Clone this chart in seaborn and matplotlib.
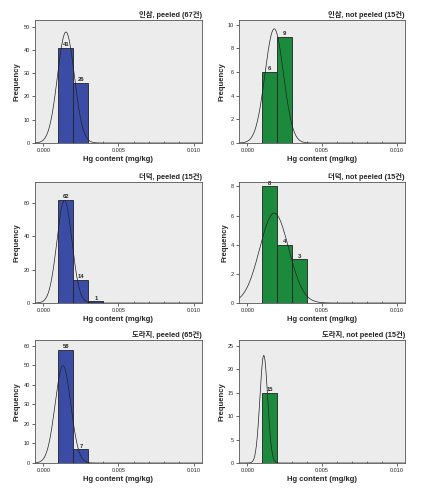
import numpy as np
import pandas as pd
import matplotlib
matplotlib.use("Agg")
import matplotlib.pyplot as plt
import seaborn as sns
from matplotlib.ticker import MultipleLocator

# Histogram data (bin width 0.001 mg/kg, first bin starts at 0.001)
TITLES = [
    "인삼, peeled (67건)", "인삼, not peeled (15건)",
    "더덕, peeled (15건)", "더덕, not peeled (15건)",
    "도라지, peeled (65건)", "도라지, not peeled (15건)",
]
BIN_START = [0.001, 0.001, 0.001, 0.001, 0.001, 0.001]
COUNTS = [
    [41, 26],
    [6, 9],
    [62, 14, 1],
    [8, 4, 3],
    [58, 7],
    [15],
]
# normal curve parameters (mean, sd) estimated from the fitted curves
MEANS = [0.00150, 0.00180, 0.00140, 0.00180, 0.00130, 0.00110]
SDS = [0.00056, 0.00062, 0.00050, 0.00097, 0.00052, 0.00026]
Y_TOP = [52.9, 10.4, 72.5, 8.3, 62.9, 26.3]
Y_STEP = [10, 2, 20, 2, 10, 5]
COLORS = ["#3a4ca6", "#1b8a3c"] * 3
BIN_WIDTH = 0.001

sns.set_style("white")
plt.rcParams["font.family"] = ["Liberation Sans", "Noto Sans CJK KR"]

fig = plt.figure(figsize=(4.31, 4.93), dpi=100)
W, H = 431, 493
cols = [(35, 202), (239, 405)]
rows = [(20, 143), (182, 303), (340, 463)]

for i in range(6):
    r, c = divmod(i, 2)
    x0, x1 = cols[c]
    y0, y1 = rows[r]
    ax = fig.add_axes([x0 / W, 1 - y1 / H, (x1 - x0) / W, (y1 - y0) / H])
    ax.set_facecolor("#ececec")

    counts = COUNTS[i]
    edges = [BIN_START[i] + BIN_WIDTH * k for k in range(len(counts) + 1)]
    centers = [(edges[k] + edges[k + 1]) / 2 for k in range(len(counts))]
    df = pd.DataFrame({"x": centers, "n": counts})
    sns.histplot(data=df, x="x", weights="n", bins=edges, ax=ax,
                 color=COLORS[i], alpha=1, edgecolor="#222222", linewidth=0.6)
    ax.bar_label(ax.containers[0], labels=[str(v) for v in counts],
                 fontsize=4.2, fontweight="bold", padding=0.5)

    n = sum(counts)
    xs = np.linspace(-0.0006, 0.0106, 400)
    ys = n * BIN_WIDTH * np.exp(-0.5 * ((xs - MEANS[i]) / SDS[i]) ** 2) / (SDS[i] * np.sqrt(2 * np.pi))
    sns.lineplot(x=xs, y=ys, ax=ax, color="#222222", linewidth=0.5)

    ax.set_xlim(-0.00056, 0.01056)
    ax.set_ylim(0, Y_TOP[i])
    ax.set_xticks([0.0, 0.005, 0.010])
    ax.set_xticklabels(["0.000", "0.005", "0.010"])
    ax.xaxis.set_minor_locator(MultipleLocator(0.001))
    ax.yaxis.set_major_locator(MultipleLocator(Y_STEP[i]))
    ax.tick_params(axis="both", which="major", labelsize=4, length=2, width=0.5,
                   direction="out", pad=1.5, bottom=True, left=True)
    ax.tick_params(axis="x", which="minor", length=1.5, width=0.4, direction="in", bottom=True)
    for s in ax.spines.values():
        s.set_color("#555555")
        s.set_linewidth(0.6)
    ax.set_xlabel("Hg content (mg/kg)", fontsize=5.5, fontweight="bold", labelpad=2)
    ax.set_ylabel("Frequency", fontsize=5.5, fontweight="bold", labelpad=2)
    ax.set_title(TITLES[i], loc="right", fontsize=5.3, fontweight="bold", pad=2)

fig.savefig("out.png", dpi=100, facecolor="white")
